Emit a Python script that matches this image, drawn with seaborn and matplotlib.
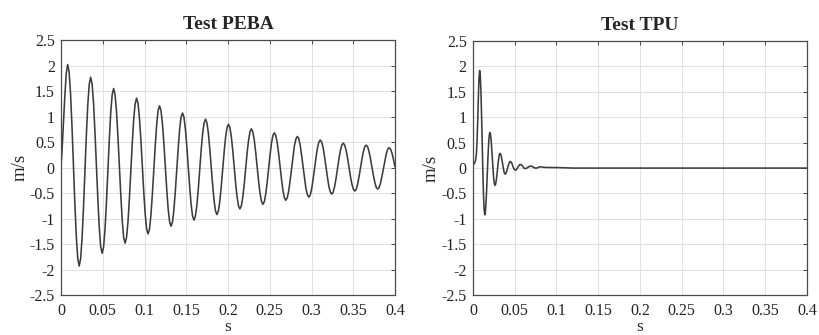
import numpy as np
import pandas as pd
import seaborn as sns
import matplotlib.pyplot as plt

# Velocity traces read off the reference figure (m/s), sampled on a uniform
# time grid: first sample time and sampling step in seconds
peba_t0, peba_dt = -0.000594, 0.00171875
peba_v = [-0.10, 0.30, 0.85, 1.40, 1.85, 2.02,
          1.87, 1.44, 0.80, 0.05, -0.71, -1.35, -1.78, -1.93,
          -1.79, -1.39, -0.79, -0.08, 0.63, 1.23, 1.63, 1.77,
          1.64, 1.27, 0.70, 0.05, -0.61, -1.18, -1.55, -1.68,
          -1.56, -1.21, -0.68, -0.07, 0.55, 1.08, 1.43, 1.55,
          1.43, 1.11, 0.61, 0.04, -0.54, -1.04, -1.37, -1.48,
          -1.37, -1.07, -0.60, -0.06, 0.48, 0.95, 1.25, 1.36,
          1.26, 0.97, 0.54, 0.03, -0.48, -0.91, -1.20, -1.30,
          -1.21, -0.93, -0.52, -0.05, 0.43, 0.84, 1.12, 1.21,
          1.12, 0.87, 0.48, 0.03, -0.42, -0.81, -1.06, -1.15,
          -1.07, -0.83, -0.46, -0.04, 0.38, 0.75, 0.99, 1.07,
          0.99, 0.76, 0.42, 0.02, -0.38, -0.72, -0.95, -1.03,
          -0.95, -0.74, -0.42, -0.04, 0.34, 0.66, 0.87, 0.95,
          0.88, 0.68, 0.37, 0.02, -0.34, -0.65, -0.85, -0.92,
          -0.85, -0.66, -0.37, -0.04, 0.30, 0.59, 0.78, 0.85,
          0.79, 0.61, 0.34, 0.02, -0.30, -0.57, -0.75, -0.81,
          -0.75, -0.58, -0.33, -0.03, 0.28, 0.53, 0.70, 0.76,
          0.70, 0.54, 0.30, 0.02, -0.26, -0.50, -0.66, -0.72,
          -0.67, -0.52, -0.29, -0.02, 0.25, 0.48, 0.63, 0.68,
          0.63, 0.49, 0.27, 0.02, -0.23, -0.45, -0.59, -0.64,
          -0.59, -0.46, -0.25, -0.02, 0.22, 0.43, 0.56, 0.61,
          0.57, 0.44, 0.24, 0.02, -0.21, -0.41, -0.53, -0.58,
          -0.54, -0.42, -0.23, -0.02, 0.19, 0.38, 0.50, 0.54,
          0.50, 0.39, 0.21, 0.01, -0.19, -0.37, -0.48, -0.52,
          -0.48, -0.37, -0.21, -0.02, 0.17, 0.33, 0.44, 0.48,
          0.44, 0.34, 0.19, 0.01, -0.17, -0.32, -0.42, -0.46,
          -0.43, -0.33, -0.18, -0.01, 0.16, 0.31, 0.41, 0.44,
          0.41, 0.31, 0.17, 0.01, -0.15, -0.29, -0.39, -0.42,
          -0.39, -0.30, -0.17, -0.02, 0.14, 0.27, 0.36, 0.39,
          0.36, 0.28, 0.16, 0.02]

tpu_t0, tpu_dt = -0.0003875, 0.0007625
tpu_v = [0.05, 0.06, 0.08, 0.10, 0.13, 0.18, 0.30, 0.55, 0.95, 1.40, 1.78, 1.92,
         1.81, 1.51, 1.04, 0.50, -0.04, -0.51, -0.81, -0.92,
         -0.86, -0.68, -0.42, -0.11, 0.20, 0.46, 0.64, 0.70,
         0.66, 0.55, 0.38, 0.18, -0.02, -0.19, -0.30, -0.34,
         -0.32, -0.25, -0.15, -0.03, 0.10, 0.20, 0.27, 0.29,
         0.27, 0.23, 0.16, 0.09, 0.01, -0.06, -0.10, -0.12,
         -0.11, -0.08, -0.04, 0.01, 0.05, 0.09, 0.12, 0.13,
         0.12, 0.11, 0.08, 0.04, 0.01, -0.02, -0.03, -0.04,
         -0.04, -0.02, -0.01, 0.02, 0.04, 0.05, 0.07, 0.07,
         0.07, 0.06, 0.05, 0.03, 0.01, 0.00, -0.01, -0.01,
         -0.01, 0.00, 0.01, 0.02, 0.02, 0.03, 0.04, 0.04,
         0.04, 0.03, 0.03, 0.02, 0.01, 0.01, 0.00, 0.00,
         0.00, 0.00, 0.01, 0.01, 0.02, 0.02, 0.025, 0.025]
# settled tail of the TPU trace
tpu_tail_t = [0.085, 0.090, 0.100, 0.110, 0.120, 0.400]
tpu_tail_v = [0.015, 0.012, 0.010, 0.006, 0.000, 0.000]

titles = ['Test PEBA', 'Test TPU']
xticks = [0, 0.05, 0.1, 0.15, 0.2, 0.25, 0.3, 0.35, 0.4]
yticks = [-2.5, -2, -1.5, -1, -0.5, 0, 0.5, 1, 1.5, 2, 2.5]

peba = pd.DataFrame({'t': peba_t0 + peba_dt * np.arange(len(peba_v)), 'v': peba_v})
tpu = pd.concat([
    pd.DataFrame({'t': tpu_t0 + tpu_dt * np.arange(len(tpu_v)), 'v': tpu_v}),
    pd.DataFrame({'t': tpu_tail_t, 'v': tpu_tail_v}),
], ignore_index=True)

sns.set_style('white')
plt.rcParams['font.family'] = ['Liberation Serif', 'DejaVu Serif']
plt.rcParams['axes.unicode_minus'] = False

fig = plt.figure(figsize=(8.19, 3.35), dpi=100)
ax1 = fig.add_axes([0.0745, 0.119, 0.4078, 0.7615])
ax2 = fig.add_axes([0.5775, 0.119, 0.4078, 0.7585])

for ax, df, title in [(ax1, peba, titles[0]), (ax2, tpu, titles[1])]:
    sns.lineplot(data=df, x='t', y='v', ax=ax, color='#3c3c3c', lw=1.15,
                 estimator=None, sort=False)
    ax.set_xlim(0, 0.4)
    ax.set_ylim(-2.5, 2.5)
    ax.set_xticks(xticks)
    ax.set_xticklabels([f'{x:g}' for x in xticks])
    ax.set_yticks(yticks)
    ax.set_yticklabels([f'{y:g}' for y in yticks])
    ax.grid(True, color='#e0e0e0', lw=0.7)
    ax.set_axisbelow(True)
    for s in ax.spines.values():
        s.set_color('#4a4a4a')
        s.set_linewidth(0.9)
    ax.tick_params(direction='in', length=3, width=0.7, color='#4a4a4a',
                   top=True, right=True, labelsize=11.5, labelcolor='#222222')
    ax.tick_params(axis='x', pad=5.5)
    ax.tick_params(axis='y', pad=4.5)
    ax.set_title(title, fontsize=14, fontweight='bold', pad=8)
    ax.set_xlabel('s', fontsize=12.5, labelpad=0)
    ax.set_ylabel('m/s', fontsize=13.5, labelpad=1)

fig.savefig('out.png', dpi=100)
